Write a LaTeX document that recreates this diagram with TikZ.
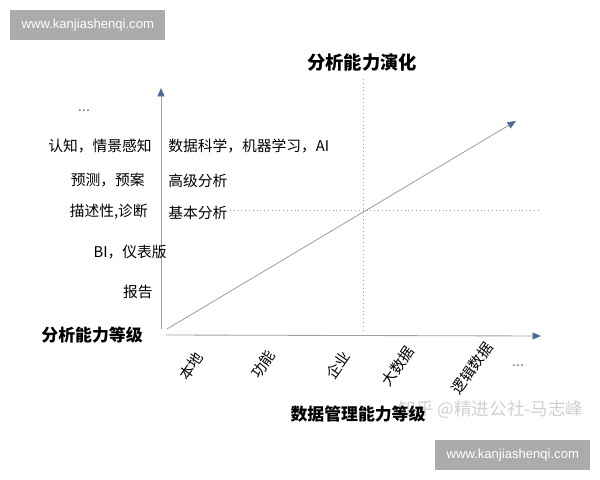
\documentclass[tikz,border=0pt]{standalone}
\usepackage{fontspec}
\setmainfont{Noto Sans CJK SC}
\newfontfamily\webfont{Liberation Sans}
\usetikzlibrary{positioning,arrows.meta}

\definecolor{axisgray}{HTML}{A0A0A0}
\definecolor{tipblue}{HTML}{4E6A98}
\definecolor{markgray}{HTML}{ABABAB}
\definecolor{zhihugray}{HTML}{D0D0D0}

\begin{document}
\begin{tikzpicture}[x=0.025cm,y=-0.025cm,
    every node/.append style={inner sep=0pt},
    axis/.style={draw=axisgray,line width=0.6pt,
        -{Triangle[length=6pt,width=5pt,color=tipblue]}},
    guide/.style={draw=axisgray,dotted,line width=0.7pt},
    level/.style={font=\fontsize{10.5}{12}\selectfont},
    heading/.style={font=\fontsize{12}{14}\selectfont\bfseries},
    tick/.style={level,rotate=55},
    webbox/.style={fill=markgray,text=white,minimum width=3.875cm,
        minimum height=0.75cm,font=\webfont\fontsize{9.3}{11}\selectfont}
  ]
  \useasboundingbox (0,0) rectangle (600,480);

  % watermarks
  \node[webbox,anchor=north west] (webtop) at (10,10) {www.kanjiashenqi.com};
  \node[webbox,anchor=north west] (webbottom) at (435,440) {www.kanjiashenqi.com};
  \node[text=zhihugray,font=\fontsize{12.5}{14}\selectfont] (zhihu) at (491,410)
      {知乎 @精进公社-马志峰};

  % title
  \node[heading,font=\fontsize{13}{15}\selectfont\bfseries] (title) at (362,63) {分析能力演化};

  % axes
  \coordinate (ybase) at (161,329);
  \coordinate (ytip) at (161,88);
  \coordinate (xbase) at (166,335);
  \coordinate (xtip) at (541,336);
  \draw[axis] (ybase) -- (ytip);
  \draw[axis] (xbase) -- (xtip);

  % evolution line
  \coordinate (dbase) at (167,329);
  \coordinate (dtip) at (516,121);
  \draw[axis] (dbase) -- (dtip);

  % guide lines
  \coordinate (vtop) at (363,79);
  \coordinate (vbot) at (363,332);
  \coordinate (hleft) at (230,210);
  \coordinate (hright) at (541,210);
  \draw[guide] (vtop) -- (vbot);
  \draw[guide] (hleft) -- (hright);

  % analysis levels, left of the axis
  \node[level,text=gray] (dotsleft) at (84,111) {...};
  \node[level,anchor=east] (cognition) at (152,146) {认知，情景感知};
  \node[level,anchor=east] (predict) at (145,180) {预测，预案};
  \node[level,anchor=east] (describe) at (148,212) {描述性,诊断};
  \node[level,anchor=east] (dashboard) at (167,252) {BI，仪表版};
  \node[level,anchor=east] (report) at (153,292) {报告};
  \node[heading,anchor=east] (ylabel) at (143,335) {分析能力等级};

  % analysis levels, right of the axis
  \node[level,anchor=west] (science) at (168,146) {数据科学，机器学习，AI};
  \node[level,anchor=west] (advanced) at (168,181) {高级分析};
  \node[level,anchor=west] (basic) at (168,213) {基本分析};

  % data management levels
  \node[tick] (local) at (191,366) {本地};
  \node[tick] (function) at (263,364) {功能};
  \node[tick] (enterprise) at (338,365) {企业};
  \node[tick] (bigdata) at (398,366) {大数据};
  \node[tick] (logical) at (472,368) {逻辑数据};
  \node[level,text=gray] (dotsright) at (518,366) {...};
  \node[heading] (xlabel) at (358,414) {数据管理能力等级};

\end{tikzpicture}
\end{document}
